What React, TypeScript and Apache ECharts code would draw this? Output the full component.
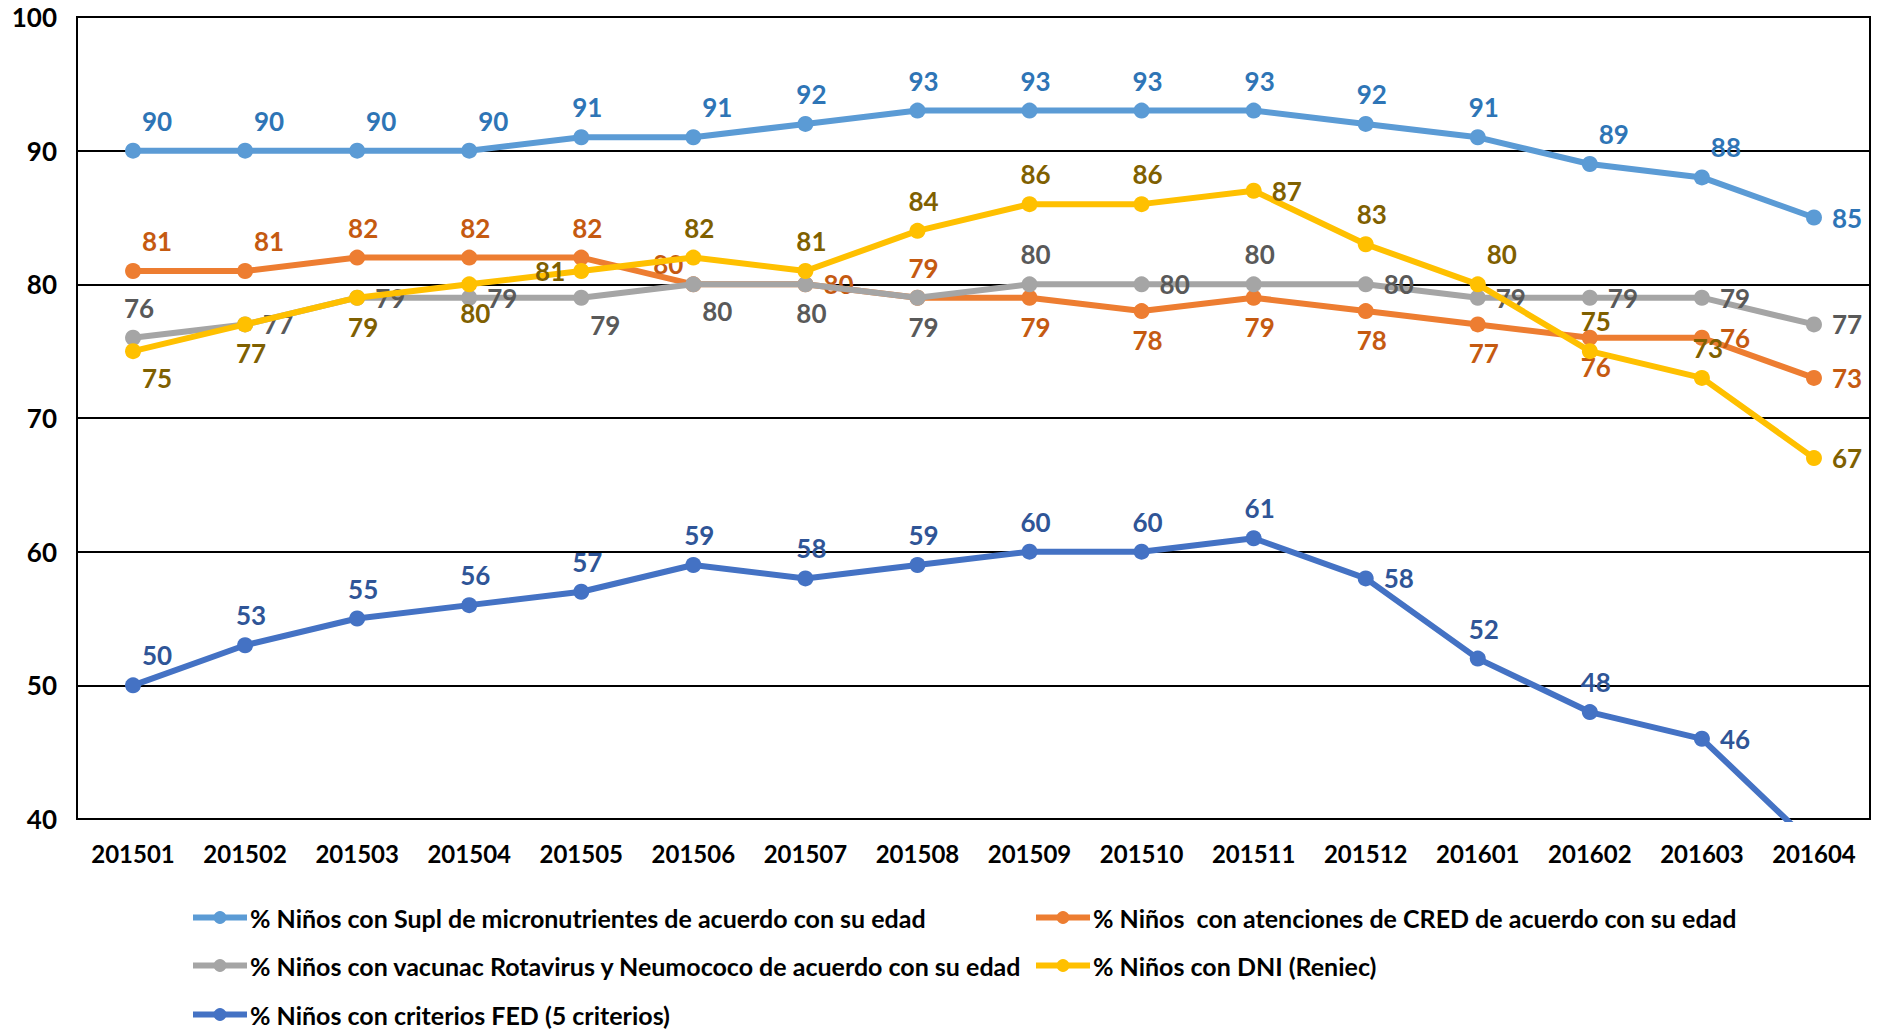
import React, { useEffect, useRef } from "react";
import * as echarts from "echarts";

const categories = ["201501","201502","201503","201504","201505","201506","201507","201508","201509","201510","201511","201512","201601","201602","201603","201604"];

const seriesNames = [
  "% Niños con Supl de micronutrientes de acuerdo con su edad",
  "% Niños  con atenciones de CRED de acuerdo con su edad",
  "% Niños con vacunac Rotavirus y Neumococo de acuerdo con su edad",
  "% Niños con DNI (Reniec)",
  "% Niños con criterios FED (5 criterios)",
];

const suplValues = [90, 90, 90, 90, 91, 91, 92, 93, 93, 93, 93, 92, 91, 89, 88, 85];
const credValues = [81, 81, 82, 82, 82, 80, 80, 79, 79, 78, 79, 78, 77, 76, 76, 73];
const vacunaValues = [76, 77, 79, 79, 79, 80, 80, 79, 80, 80, 80, 80, 79, 79, 79, 77];
const dniValues = [75, 77, 79, 80, 81, 82, 81, 84, 86, 86, 87, 83, 80, 75, 73, 67];
const fedValues = [50, 53, 55, 56, 57, 59, 58, 59, 60, 60, 61, 58, 52, 48, 46, 38];

const yTicks = { min: 40, max: 100, interval: 10 };

// label placement codes (style only)
const suplPos = ["TR","TR","TR","TR","T","TR","T","T","T","T","T","T","T","TR","TR","R"];
const credPos = ["TR","TR","T","T","T","LT","R","T","B","B","B","B","B","B","R","R"];
const vacunaPos = ["T","R","R","R","BR","BR","B","B","T","R","T","R","R","R","R","R"];
const dniPos = ["BR","B","B","B","L","T","T","T","T","T","R","T","TR","T","T","R"];
const fedPos = ["TR","T","T","T","T","T","T","T","T","T","T","R","T","T","R","N"];

const lineColors = ["#5B9BD5", "#ED7D31", "#A5A5A5", "#FFC000", "#4472C4"];
const labelColors = ["#2E75B6", "#C55A11", "#595959", "#7F6000", "#2F5597"];

// legend layout: [series index, left, top]
const legendSlots = [
  [0, 190, 905],
  [1, 1033, 905],
  [2, 190, 953],
  [3, 1033, 953],
  [4, 190, 1002],
];

const FONT = "Lato, 'Open Sans', sans-serif";

function labelFor(code: string) {
  switch (code) {
    case "T": return { position: "top", distance: 9, offset: [6, 0] };
    case "TR": return { position: "top", distance: 9, offset: [24, 0] };
    case "B": return { position: "bottom", distance: 8, offset: [6, 0] };
    case "BR": return { position: "bottom", distance: 6, offset: [24, 0] };
    case "R": return { position: "right", distance: 10, offset: [0, 0] };
    case "L": return { position: "left", distance: 8, offset: [0, 0] };
    case "LT": return { position: "left", distance: 2, offset: [0, -20] };
    default: return { show: false };
  }
}

function buildSeries(idx: number, values: number[], pos: string[]) {
  return {
    name: seriesNames[idx],
    type: "line",
    data: values.map((v, i) => ({ value: v, label: labelFor(pos[i]) })),
    symbol: "circle",
    symbolSize: 16,
    lineStyle: { width: 6, color: lineColors[idx] },
    itemStyle: { color: lineColors[idx] },
    label: {
      show: true,
      color: labelColors[idx],
      fontFamily: FONT,
      fontWeight: "bold",
      fontSize: 26,
    },
    clip: true,
    z: 2 + idx,
  };
}

export default function App() {
  const ref = useRef<HTMLDivElement>(null);
  useEffect(() => {
    document.body.style.margin = "0";
    const chart = echarts.init(ref.current!, undefined, { renderer: "svg" });
    const legendText = { fontFamily: FONT, fontWeight: "bold", fontSize: 25, color: "#000", padding: [0, 0, 0, -2] };
    chart.setOption({
      animation: false,
      backgroundColor: "#fff",
      grid: { left: 77, right: 7, top: 17, bottom: 210, show: true, borderColor: "#000", borderWidth: 2, containLabel: false },
      xAxis: {
        type: "category",
        data: categories,
        boundaryGap: true,
        axisLine: { lineStyle: { color: "#000", width: 2 } },
        axisTick: { show: false },
        axisLabel: { color: "#000", fontFamily: FONT, fontWeight: "bold", fontSize: 24, margin: 22 },
      },
      yAxis: {
        type: "value",
        min: yTicks.min,
        max: yTicks.max,
        interval: yTicks.interval,
        axisLine: { show: true, lineStyle: { color: "#000", width: 2 } },
        axisTick: { show: false },
        splitLine: { lineStyle: { color: "#000", width: 1.8 } },
        axisLabel: { color: "#000", fontFamily: FONT, fontWeight: "bold", fontSize: 26, margin: 20 },
      },
      legend: legendSlots.map(([idx, left, top]) => ({
        data: [seriesNames[idx]],
        left,
        top,
        padding: 0,
        itemWidth: 54,
        itemHeight: 16,
        lineStyle: { width: 6 },
        textStyle: legendText,
      })),
      series: [
        buildSeries(0, suplValues, suplPos),
        buildSeries(1, credValues, credPos),
        buildSeries(2, vacunaValues, vacunaPos),
        buildSeries(3, dniValues, dniPos),
        buildSeries(4, fedValues, fedPos),
      ],
    });
    return () => chart.dispose();
  }, []);
  return <div ref={ref} style={{ width: "1877px", height: "1029px" }} />;
}
